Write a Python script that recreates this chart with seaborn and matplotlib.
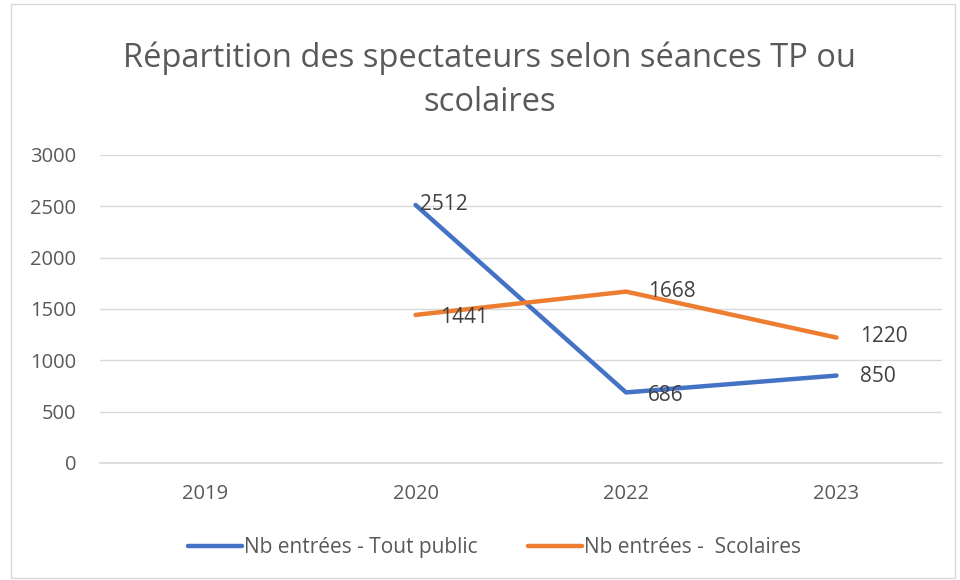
import numpy as np
import pandas as pd
import matplotlib
matplotlib.use("Agg")
import matplotlib.pyplot as plt
import seaborn as sns
from matplotlib.patches import Rectangle

# Données
annees = ["2019", "2020", "2022", "2023"]
tout_public = [np.nan, 2512, 686, 850]
scolaires = [np.nan, 1441, 1668, 1220]
series_noms = ["Nb entrées - Tout public", "Nb entrées -  Scolaires"]
y_ticks = [0, 500, 1000, 1500, 2000, 2500, 3000]

couleurs = ["#4472C4", "#ED7D31"]

sns.set_theme(style="white")
plt.rcParams['font.family'] = ['Open Sans', 'DejaVu Sans']

pos = np.arange(len(annees))
df = pd.DataFrame({
    "pos": np.concatenate([pos, pos]),
    "val": tout_public + scolaires,
    "serie": [series_noms[0]] * len(annees) + [series_noms[1]] * len(annees),
})

fig = plt.figure(figsize=(9.6, 5.8), dpi=100)
ax = fig.add_axes([0.104, 0.202, 0.877, 0.531])

sns.lineplot(data=df.dropna(), x="pos", y="val", hue="serie", hue_order=series_noms,
             palette=couleurs, linewidth=3.2, ax=ax, legend=False)

# étiquettes de données (offsets en points)
offsets = {
    0: [None, (3, 0), (16, -2), (17, -1)],
    1: [None, (18, -2), (16, 0), (17, 1)],
}
for s, vals in enumerate([tout_public, scolaires]):
    for i, v in enumerate(vals):
        if np.isnan(v):
            continue
        dx, dy = offsets[s][i]
        ax.annotate(f"{int(v)}", (pos[i], v), xytext=(dx, dy), textcoords="offset points",
                    ha="left", va="center", fontsize=15, color="#404040")

ax.set_xlim(-0.5, len(annees) - 0.5)
ax.set_ylim(0, 3000)
ax.set_xticks(pos)
ax.set_xticklabels(annees)
ax.set_yticks(y_ticks)
ax.tick_params(axis="both", length=0, labelsize=14.5, colors="#595959")
ax.tick_params(axis="x", pad=15)
ax.tick_params(axis="y", pad=17)
ax.grid(axis="y", color="#d9d9d9", linewidth=1)
for sp in ["top", "right", "left"]:
    ax.spines[sp].set_visible(False)
ax.spines["bottom"].set_color("#d9d9d9")
ax.set_xlabel("")
ax.set_ylabel("")

fig.text(0.51, 0.862, "Répartition des spectateurs selon séances TP ou\nscolaires",
         ha="center", va="center", fontsize=23.5, color="#595959", linespacing=1.45)

handles = [plt.Line2D([], [], color=c, linewidth=3.2) for c in couleurs]
fig.legend(handles, series_noms, loc="center", bbox_to_anchor=(0.515, 0.056), ncol=2,
           frameon=False, fontsize=15, handlelength=2.6, handletextpad=0.1,
           columnspacing=2.4, labelcolor="#595959")

fig.patches.append(Rectangle((0.011, 0.003), 0.984, 0.99, transform=fig.transFigure,
                             fill=False, edgecolor="#d9d9d9", linewidth=1))

fig.savefig("out.png", dpi=100)
